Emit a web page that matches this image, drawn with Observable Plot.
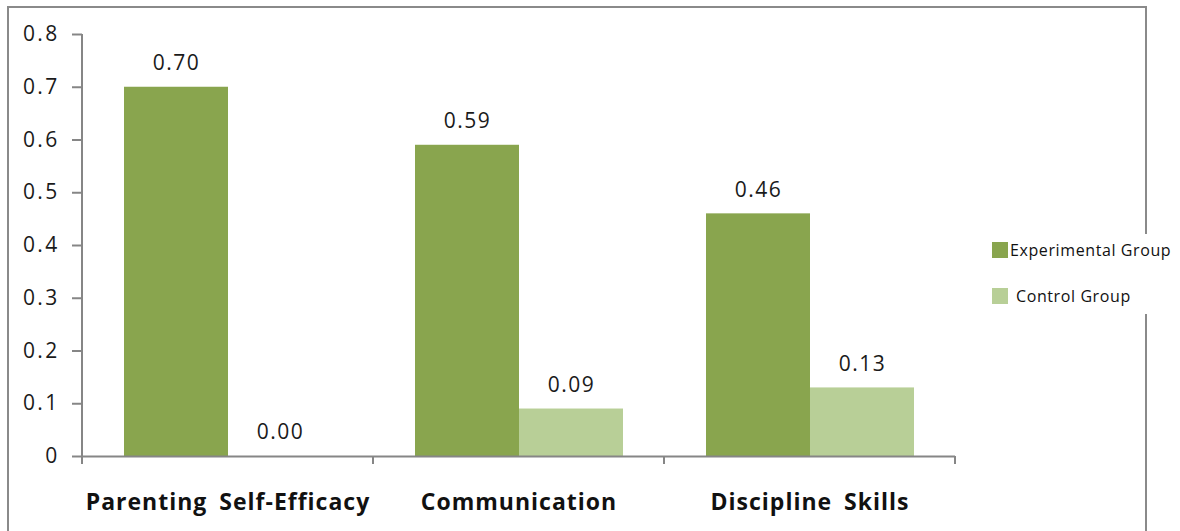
<!DOCTYPE html>
<html>
<head>
<meta charset="utf-8">
<script src="https://cdn.jsdelivr.net/npm/d3@7"></script>
<script src="https://cdn.jsdelivr.net/npm/@observablehq/plot@0.6"></script>
<style>
  body { margin: 0; background: #fff; font-family: "Open Sans", sans-serif; }
  #wrap { position: relative; width: 1180px; height: 531px; overflow: hidden; background: #fff; }
  #border { position: absolute; left: 7px; top: 6px; width: 1136px; height: 620px; border: 2px solid #8a8a8a; }
  #chart { position: absolute; left: 0; top: 0; }
  #legend { position: absolute; left: 988px; top: 234px; background: #fff; padding: 4px 0 6px 4px; width: 188px; }
  .item { display: flex; align-items: center; height: 24px; font-size: 16px; letter-spacing: 0.6px; color: #111; white-space: nowrap; }
  .item + .item { margin-top: 22px; }
  .sw { width: 16px; height: 16px; margin-right: 2px; }
  g[aria-label="fx-axis tick label"] text { letter-spacing: 1px; word-spacing: 5px; }
  g[aria-label="y-axis tick label"] text { letter-spacing: 2.3px; }
  g[aria-label="text"] text { letter-spacing: 1.5px; }
</style>
</head>
<body>
<div id="wrap">
  <div id="border"></div>
  <div id="chart"></div>
  <div id="legend"></div>
</div>
<script>
const categories = ["Parenting Self-Efficacy", "Communication", "Discipline Skills"];
const groups = ["Experimental Group", "Control Group"];
const experimental = [0.70, 0.59, 0.46];
const control = [0.00, 0.09, 0.13];
const colors = ["#89a54e", "#b8cf97"];
const yTicks = [0, 0.1, 0.2, 0.3, 0.4, 0.5, 0.6, 0.7, 0.8];

const data = [];
categories.forEach((c, i) => {
  data.push({category: c, group: groups[0], value: experimental[i]});
  data.push({category: c, group: groups[1], value: control[i]});
});

const chart = Plot.plot({
  width: 1180,
  height: 531,
  marginLeft: 82,
  marginRight: 225,
  marginTop: 34,
  marginBottom: 75,
  style: {fontFamily: "'Open Sans', sans-serif", fontSize: "21px", color: "#1a1a1a", background: "transparent"},
  fx: {domain: categories, padding: 0, axis: null},
  x: {domain: groups, paddingInner: 0, paddingOuter: 0.386, axis: null},
  y: {domain: [0, 0.8], axis: null},
  color: {domain: groups, range: colors},
  marks: [
    Plot.barY(data, {fx: "category", x: "group", y: "value", fill: "group"}),
    Plot.ruleY([0], {stroke: "#868686", strokeWidth: 2}),
    Plot.text(data, {fx: "category", x: "group", y: "value", text: d => d.value.toFixed(2),
      lineAnchor: "middle", dy: -24, fontSize: 21, fill: "#1a1a1a"}),
    Plot.axisY({ticks: yTicks, tickSize: 10, tickPadding: 13, stroke: "#868686", strokeWidth: 2,
      fill: "#1a1a1a", fontSize: 21, tickFormat: d => d === 0 ? "0" : d.toFixed(1), label: null}),
    Plot.axisFx({anchor: "bottom", tickSize: 0, tickPadding: 37, fontSize: 23, fontWeight: "bold",
      fill: "#111", label: null})
  ]
});

document.getElementById("chart").appendChild(chart);

// axis line and category boundary ticks, placed from the plot's own scales
const fx = chart.scale("fx");
const y = chart.scale("y");
const svg = d3.select(chart);
const x0 = fx.apply(categories[0]);
const y0 = y.apply(0);
svg.append("line")
  .attr("x1", x0).attr("x2", x0)
  .attr("y1", y.apply(0.8)).attr("y2", y0)
  .attr("stroke", "#868686").attr("stroke-width", 2);
const edges = categories.map(c => fx.apply(c)).concat([fx.apply(categories[categories.length - 1]) + fx.bandwidth]);
edges.forEach(e => {
  svg.append("line")
    .attr("x1", e).attr("x2", e)
    .attr("y1", y0).attr("y2", y0 + 8)
    .attr("stroke", "#868686").attr("stroke-width", 2);
});

// legend
const legend = document.getElementById("legend");
groups.forEach((g, i) => {
  const item = document.createElement("div");
  item.className = "item";
  const sw = document.createElement("div");
  sw.className = "sw";
  sw.style.background = colors[i];
  const t = document.createElement("span");
  t.textContent = g;
  if (i === 1) t.style.marginLeft = "6px";
  item.appendChild(sw);
  item.appendChild(t);
  legend.appendChild(item);
});
</script>
</body>
</html>
